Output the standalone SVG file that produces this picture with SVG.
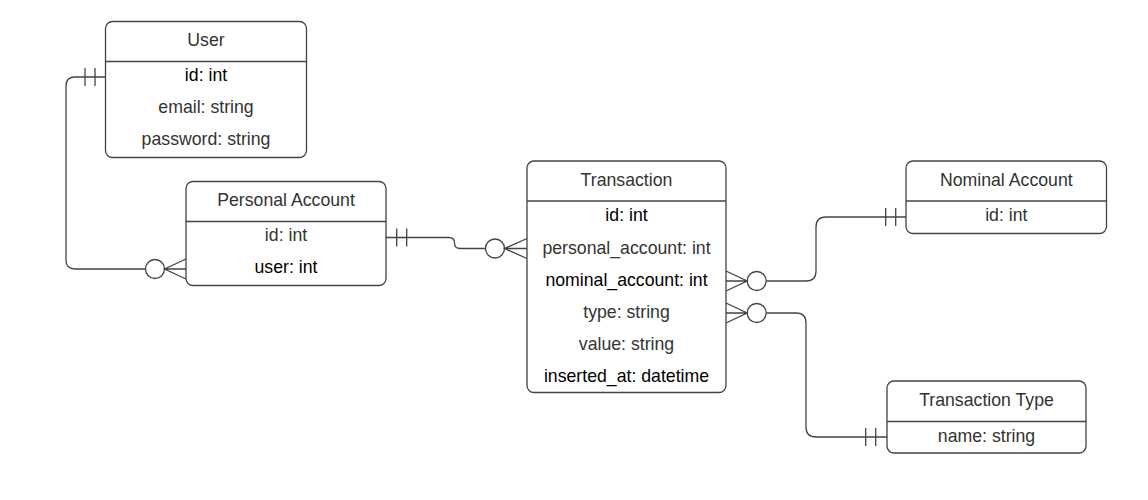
<svg xmlns="http://www.w3.org/2000/svg" width="1148" height="500" viewBox="0 0 1148 500">
<style>
.box{fill:#fff;stroke:#444;stroke-width:1.3}
.div{stroke:#444;stroke-width:1.3}
.t{font-family:"Liberation Sans",Arial,sans-serif;font-size:17.7px;text-anchor:middle;fill:#333}
.k{fill:#000}
.c{fill:none;stroke:#444;stroke-width:1.3}
.o{fill:#fff;stroke:#444;stroke-width:1.3}
</style>
<rect width="1148" height="500" fill="#fff"/>
<g id="connectors">
  <!-- User - Personal Account -->
  <path class="c" d="M105.5,77 H75 Q66,77 66,86 V260 Q66,269 75,269 H145.5"/>
  <path class="c" d="M85,68 V86 M95,68 V86"/>
  <circle class="o" cx="155" cy="269" r="9.5"/>
  <path class="c" d="M186,259 L164.5,269 L186,279 M164.5,269 H186"/>
  <!-- Personal Account - Transaction -->
  <path class="c" d="M386,237.5 H449 Q454.5,237.5 454.5,243 Q454.5,248.5 460,248.5 H485.5"/>
  <path class="c" d="M396.7,228.5 V246.5 M406.7,228.5 V246.5"/>
  <circle class="o" cx="495" cy="248.5" r="9.5"/>
  <path class="c" d="M527,238.5 L504.5,248.5 L527,258.5 M504.5,248.5 H527"/>
  <!-- Transaction - Nominal Account -->
  <path class="c" d="M766.2,281 H806 Q816,281 816,271 V227 Q816,217 826,217 H906"/>
  <path class="c" d="M885.7,208 V226 M895.7,208 V226"/>
  <circle class="o" cx="756.7" cy="281" r="9.5"/>
  <path class="c" d="M726,271 L747.2,281 L726,291 M726,281 H747.2"/>
  <!-- Transaction - Transaction Type -->
  <path class="c" d="M766.2,313 H796 Q806,313 806,323 V427 Q806,437 816,437 H887"/>
  <path class="c" d="M865.7,428 V446 M875.7,428 V446"/>
  <circle class="o" cx="756.7" cy="313" r="9.5"/>
  <path class="c" d="M726,303 L747.2,313 L726,323 M726,313 H747.2"/>
</g>
<g id="user">
  <rect class="box" x="105.5" y="21.5" width="201" height="136" rx="7"/>
  <line class="div" x1="105.5" y1="61.5" x2="306.5" y2="61.5"/>
  <text class="t" x="206" y="45.5">User</text>
  <text class="t k" x="206" y="81">id: int</text>
  <text class="t" x="206" y="112.8">email: string</text>
  <text class="t" x="206" y="144.5">password: string</text>
</g>
<g id="personal-account">
  <rect class="box" x="186" y="181.5" width="200" height="104" rx="7"/>
  <line class="div" x1="186" y1="221.5" x2="386" y2="221.5"/>
  <text class="t" x="286" y="205.5">Personal Account</text>
  <text class="t" x="286" y="241">id: int</text>
  <text class="t k" x="286" y="273">user: int</text>
</g>
<g id="transaction">
  <rect class="box" x="527" y="161" width="199" height="231.5" rx="7"/>
  <line class="div" x1="527" y1="201" x2="726" y2="201"/>
  <text class="t" x="626.5" y="186">Transaction</text>
  <text class="t k" x="626.5" y="221">id: int</text>
  <text class="t" x="626.5" y="253.5">personal_account: int</text>
  <text class="t k" x="626.5" y="285.5">nominal_account: int</text>
  <text class="t" x="626.5" y="317.5">type: string</text>
  <text class="t" x="626.5" y="349.8">value: string</text>
  <text class="t k" x="626.5" y="382.3">inserted_at: datetime</text>
</g>
<g id="nominal-account">
  <rect class="box" x="906" y="161" width="200.5" height="72.5" rx="7"/>
  <line class="div" x1="906" y1="201" x2="1106.5" y2="201"/>
  <text class="t" x="1006.3" y="186">Nominal Account</text>
  <text class="t" x="1006.3" y="221">id: int</text>
</g>
<g id="transaction-type">
  <rect class="box" x="887" y="381" width="199" height="72" rx="7"/>
  <line class="div" x1="887" y1="421.5" x2="1086" y2="421.5"/>
  <text class="t" x="986.5" y="406">Transaction Type</text>
  <text class="t" x="986.5" y="441.5">name: string</text>
</g>
</svg>
